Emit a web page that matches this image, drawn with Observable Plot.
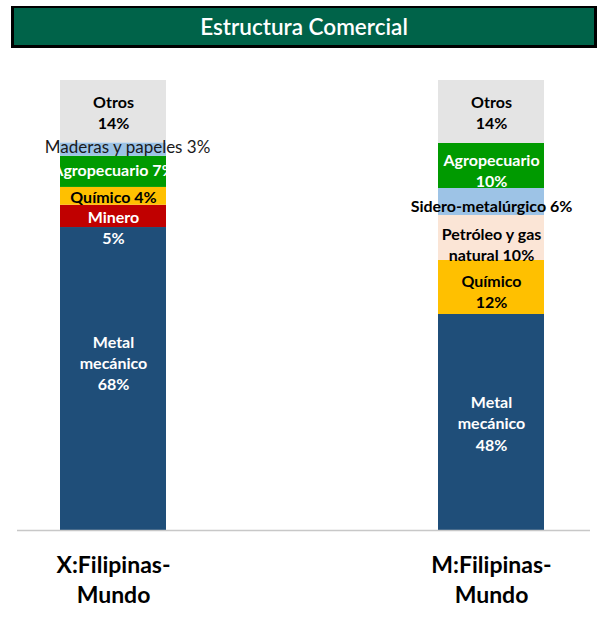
<!DOCTYPE html>
<html>
<head>
<meta charset="utf-8">
<script src="https://cdn.jsdelivr.net/npm/d3@7"></script>
<script src="https://cdn.jsdelivr.net/npm/@observablehq/plot@0.6"></script>
<style>
  html, body { margin: 0; padding: 0; background: #fff; }
  body { width: 601px; height: 620px; position: relative; overflow: hidden; font-family: Lato, "Open Sans", sans-serif; }
  #title {
    position: absolute; left: 11px; top: 6px; width: 580px; height: 37px;
    background: #006349; color: #fff;
    border-top: 2px solid #000; border-left: 3px solid #000; border-right: 3px solid #000; border-bottom: 3px solid #000;
    font-size: 22.5px; line-height: 37px; text-align: center; font-weight: 600;
  }
  #chart { position: absolute; left: 0; top: 50px; }
</style>
</head>
<body>
<div id="title">Estructura Comercial</div>
<div id="chart"></div>
<script>
// ---- data ----
const bars = ["X:Filipinas-\nMundo", "M:Filipinas-\nMundo"];

const xCats   = ["Metal mecánico", "Minero", "Químico", "Agropecuario", "Maderas y papeles", "Otros"];
const xVals   = [68, 5, 4, 7, 3, 14];
const xLabels = ["Metal\nmecánico\n68%", "Minero\n5%", "Químico 4%", "Agropecuario 7%", "Maderas y papeles 3%", "Otros\n14%"];

const mCats   = ["Metal mecánico", "Químico", "Petróleo y gas natural", "Sidero-metalúrgico", "Agropecuario", "Otros"];
const mVals   = [48, 12, 10, 6, 10, 14];
const mLabels = ["Metal\nmecánico\n48%", "Químico\n12%", "Petróleo y gas\nnatural 10%", "Sidero-metalúrgico 6%", "Agropecuario\n10%", "Otros\n14%"];

const categories = ["Metal mecánico", "Minero", "Químico", "Petróleo y gas natural", "Sidero-metalúrgico", "Agropecuario", "Maderas y papeles", "Otros"];
const colors     = ["#1F4E79", "#C00000", "#FFC000", "#FBE5D6", "#9DC3E6", "#009A00", "#9DC3E6", "#E4E4E4"];

// ---- table (with normalized stack midpoints for the labels) ----
function build(bar, cats, vals, labels) {
  const total = d3.sum(vals);
  let cum = 0;
  return cats.map((c, i) => {
    const mid = (cum + vals[i] / 2) / total;
    cum += vals[i];
    return {bar, cat: c, value: vals[i], label: labels[i], mid};
  });
}
const rows = [
  ...build(bars[0], xCats, xVals, xLabels),
  ...build(bars[1], mCats, mVals, mLabels)
];

// label styling
const whiteText = new Set(["Metal mecánico", "Minero", "Agropecuario"]);
const labelShift = {
  [bars[0] + "|Metal mecánico"]: -17,
  [bars[0] + "|Minero"]: 10,
  [bars[0] + "|Maderas y papeles"]: -4,
  [bars[0] + "|Agropecuario"]: -3,
  [bars[1] + "|Agropecuario"]: 4,
  [bars[1] + "|Sidero-metalúrgico"]: 3,
  [bars[1] + "|Petróleo y gas natural"]: 6,
  [bars[1] + "|Químico"]: 3
};
const shift = d => labelShift[d.bar + "|" + d.cat] || 0;

function labelMark(filterFn, fill, weight, extra = {}) {
  const subset = rows.filter(filterFn);
  const shifts = Array.from(new Set(subset.map(shift)));
  return shifts.map(s =>
    Plot.text(rows, {
      filter: d => filterFn(d) && shift(d) === s,
      x: "bar", y: "mid", text: "label",
      fill, fontWeight: weight, fontSize: 16, lineHeight: 1.33, dy: s, ...extra
    })
  );
}

const chart = Plot.plot({
  width: 601,
  height: 570,
  marginTop: 30,
  marginBottom: 90,
  marginLeft: 17,
  marginRight: 11,
  style: {fontFamily: "Lato, 'Open Sans', sans-serif", background: "transparent"},
  x: {domain: bars, range: [59, 544], paddingInner: 0.7203, paddingOuter: 0, label: null},
  y: {domain: [0, 1], axis: null},
  color: {domain: categories, range: colors},
  marks: [
    Plot.barY(rows, Plot.stackY({x: "bar", y: "value", offset: "normalize", fill: "cat", inset: 0})),
    Plot.ruleY([0], {stroke: "#C8C8C8", strokeWidth: 1.5}),
    ...labelMark(d => whiteText.has(d.cat), "white", "bold"),
    ...labelMark(d => !whiteText.has(d.cat) && d.cat !== "Maderas y papeles", "black", "bold"),
    ...labelMark(d => d.cat === "Maderas y papeles", "#1a1a1a", "normal", {fontSize: 17, dx: 14}),
    Plot.axisX({tickSize: 0, tickPadding: 21, fontSize: 23, fontWeight: "bold", lineHeight: 1.3, fill: "black", label: null})
  ]
});
document.getElementById("chart").appendChild(chart);
</script>
</body>
</html>
